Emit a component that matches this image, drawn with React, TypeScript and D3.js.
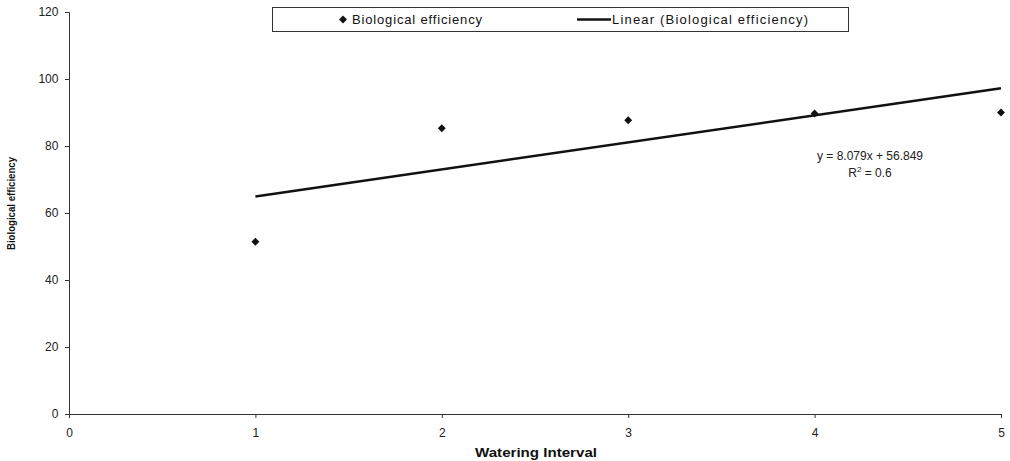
import { useEffect, useRef } from "react";
import * as d3 from "d3";

const intervals = [1, 2, 3, 4, 5];
const efficiency = [51.4, 85.3, 87.7, 89.7, 90.0];
const xTicks = [0, 1, 2, 3, 4, 5];
const yTicks = [0, 20, 40, 60, 80, 100, 120];
const slope = 8.079;
const intercept = 56.849;

const W = 1010;
const H = 461;

export default function App() {
  const ref = useRef<SVGSVGElement>(null);

  useEffect(() => {
    if (!ref.current) return;
    const svg = d3.select(ref.current);
    svg.selectAll("*").remove();

    const margin = { top: 12, left: 69, right: 9, bottom: 47 };
    const x = d3.scaleLinear().domain([0, 5]).range([margin.left, W - margin.right]);
    const y = d3.scaleLinear().domain([0, 120]).range([H - margin.bottom, margin.top]);
    const font = "'Liberation Sans', Arial, sans-serif";

    // axes
    const xAxis = svg.append("g")
      .attr("transform", `translate(0,${y(0)})`)
      .call(d3.axisBottom(x).tickValues(xTicks).tickSize(4).tickFormat(d3.format("d")));
    const yAxis = svg.append("g")
      .attr("transform", `translate(${x(0)},0)`)
      .call(d3.axisLeft(y).tickValues(yTicks).tickSize(4).tickFormat(d3.format("d")));
    [xAxis, yAxis].forEach(a => {
      a.select(".domain").attr("stroke", "#333").attr("stroke-width", 1);
      a.selectAll(".tick line").attr("stroke", "#333");
      a.selectAll("text").attr("font-family", font).attr("font-size", 12).attr("fill", "#222");
    });
    xAxis.selectAll("text").attr("dy", "1.3em");
    yAxis.selectAll("text").attr("dx", "-0.3em");

    // trend line
    svg.append("line")
      .attr("x1", x(1)).attr("y1", y(slope * 1 + intercept))
      .attr("x2", x(5)).attr("y2", y(slope * 5 + intercept))
      .attr("stroke", "#111").attr("stroke-width", 2.5);

    // points
    svg.append("g").selectAll("path")
      .data(intervals)
      .enter()
      .append("path")
      .attr("d", d3.symbol(d3.symbolDiamond2, 40)())
      .attr("transform", (d, i) => `translate(${x(d)},${y(efficiency[i])})`)
      .attr("fill", "#111");

    // equation
    const eq = svg.append("text")
      .attr("font-family", font).attr("font-size", 12).attr("fill", "#222")
      .attr("text-anchor", "middle");
    eq.append("tspan").attr("x", 870).attr("y", 160).text("y = 8.079x + 56.849");
    const r2 = svg.append("text")
      .attr("font-family", font).attr("font-size", 12).attr("fill", "#222")
      .attr("text-anchor", "middle").attr("x", 870).attr("y", 177);
    r2.append("tspan").text("R");
    r2.append("tspan").attr("font-size", 8).attr("dy", -5).text("2");
    r2.append("tspan").attr("dy", 5).text(" = 0.6");

    // axis titles
    svg.append("text")
      .attr("x", 475).attr("y", 457)
      .attr("textLength", 122).attr("lengthAdjust", "spacingAndGlyphs")
      .attr("font-family", font).attr("font-size", 12).attr("font-weight", "bold")
      .attr("fill", "#111")
      .text("Watering Interval");
    svg.append("text")
      .attr("transform", `translate(15,250) rotate(-90)`)
      .attr("textLength", 93).attr("lengthAdjust", "spacingAndGlyphs")
      .attr("font-family", font).attr("font-size", 10).attr("font-weight", "bold")
      .attr("fill", "#111")
      .text("Biological efficiency");

    // legend
    const lg = svg.append("g");
    lg.append("rect")
      .attr("x", 272.5).attr("y", 7.5).attr("width", 576).attr("height", 24)
      .attr("fill", "white").attr("stroke", "#333");
    lg.append("path")
      .attr("d", d3.symbol(d3.symbolDiamond2, 40)())
      .attr("transform", "translate(343,19.5)")
      .attr("fill", "#111");
    lg.append("text")
      .attr("x", 352).attr("y", 24)
      .attr("textLength", 130).attr("lengthAdjust", "spacing")
      .attr("font-family", font).attr("font-size", 13).attr("fill", "#111")
      .text("Biological efficiency");
    lg.append("line")
      .attr("x1", 577).attr("x2", 611).attr("y1", 19.5).attr("y2", 19.5)
      .attr("stroke", "#111").attr("stroke-width", 2.5);
    lg.append("text")
      .attr("x", 612).attr("y", 24)
      .attr("textLength", 196).attr("lengthAdjust", "spacing")
      .attr("font-family", font).attr("font-size", 13).attr("fill", "#111")
      .text("Linear (Biological efficiency)");
  }, []);

  return (
    <svg ref={ref} width={W} height={H}
      style={{ position: "absolute", left: 0, top: 0, background: "white" }} />
  );
}
